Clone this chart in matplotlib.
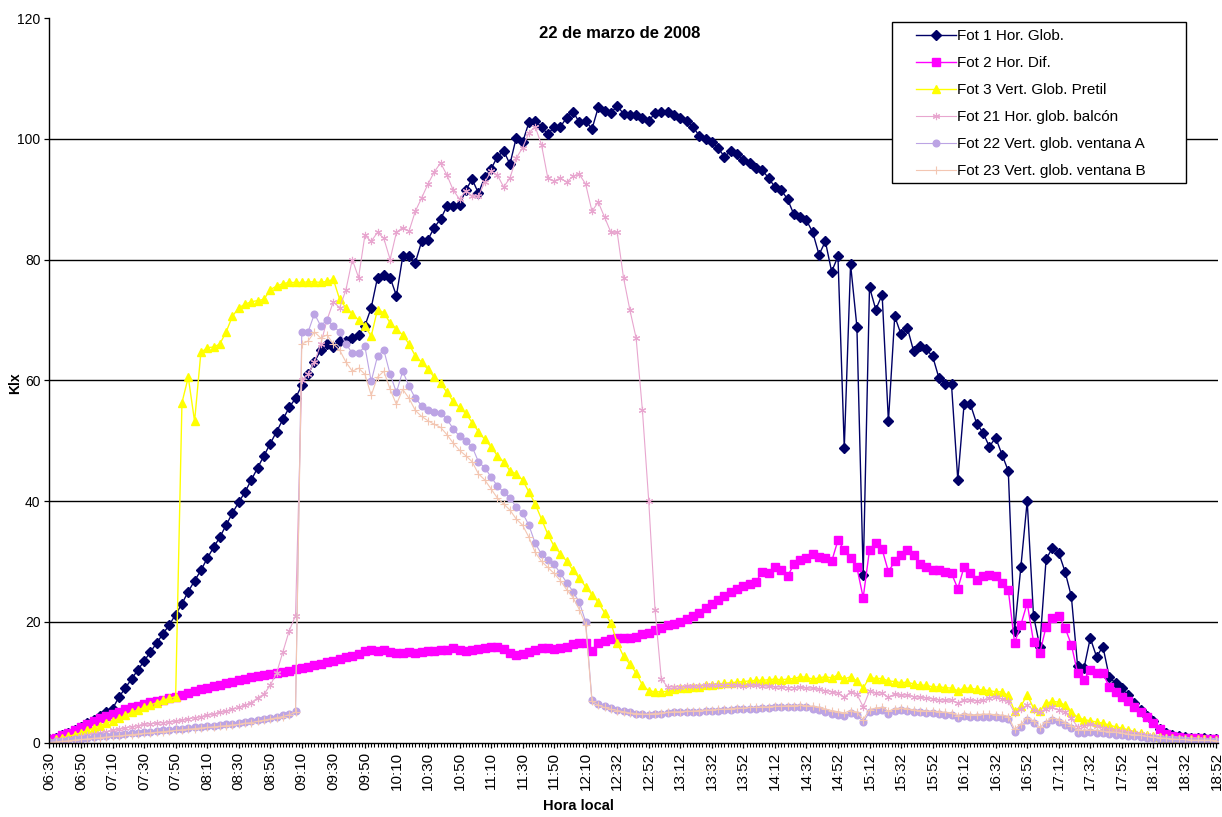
import matplotlib
matplotlib.use("Agg")
import matplotlib.pyplot as plt
from matplotlib.patches import Rectangle
import numpy as np

plt.rcParams['font.family'] = ['Liberation Sans', 'DejaVu Sans']

# Time-axis labels, one every 10 categories (2-min categories)
tick_labels = ["06:30", "06:50", "07:10", "07:30", "07:50", "08:10", "08:30", "08:50",
               "09:10", "09:30", "09:50", "10:10", "10:30", "10:50", "11:10", "11:30",
               "11:50", "12:10", "12:32", "12:52", "13:12", "13:32", "13:52", "14:12",
               "14:32", "14:52", "15:12", "15:32", "15:52", "16:12", "16:32", "16:52",
               "17:12", "17:32", "17:52", "18:12", "18:32", "18:52"]

series_names = ["Fot 1 Hor. Glob.", "Fot 2 Hor. Dif.", "Fot 3 Vert. Glob. Pretil",
                "Fot 21 Hor. glob. balcón", "Fot 22 Vert. glob. ventana A",
                "Fot 23 Vert. glob. ventana B"]

# Illuminance readings (klx), one reading every two categories
fot1 = [0.5, 0.8, 1.2, 1.6, 2.0, 2.6, 3.2, 3.8, 4.4, 5.0,
        5.6, 7.5, 9.0, 10.5, 12.0, 13.5, 15.0, 16.5, 18.0, 19.5,
        21.2, 23.0, 25.0, 26.8, 28.5, 30.5, 32.3, 34.0, 36.0, 38.0,
        39.8, 41.5, 43.5, 45.5, 47.5, 49.5, 51.5, 53.5, 55.5, 57.0,
        59.2, 61.0, 63.0, 65.0, 66.0, 65.5, 66.5, 66.5, 67.0, 67.5,
        69.0, 72.0, 77.0, 77.5, 77.0, 74.0, 80.5, 80.5, 79.5, 83.0,
        83.3, 85.3, 86.7, 88.8, 88.8, 89.0, 91.5, 93.3, 91.0, 93.6,
        95.0, 97.0, 98.0, 95.8, 100.2, 99.4, 102.7, 103.0, 101.9, 100.8,
        101.9, 102.0, 103.5, 104.5, 102.7, 103.0, 101.6, 105.2, 104.6, 104.2,
        105.5, 104.1, 104.0, 104.0, 103.5, 103.0, 104.2, 104.4, 104.4, 104.0,
        103.5, 103.0, 102.0, 100.5, 100.0, 99.5, 98.5, 97.0, 98.0, 97.5,
        96.5, 96.0, 95.2, 94.8, 93.5, 92.0, 91.5, 90.0, 87.5, 87.0,
        86.5, 84.5, 80.8, 83.0, 78.0, 80.5, 48.8, 79.2, 68.9, 27.8,
        75.4, 71.7, 74.2, 53.2, 70.6, 67.6, 68.7, 64.8, 65.6, 65.1,
        64.0, 60.4, 59.3, 59.3, 43.5, 56.1, 56.0, 52.8, 51.3, 49.0,
        50.5, 47.7, 45.0, 18.5, 29.1, 40.0, 21.0, 15.9, 30.4, 32.2,
        31.4, 28.3, 24.2, 12.6, 12.3, 17.3, 14.2, 15.9, 10.9, 9.8,
        9.0, 7.8, 6.6, 5.4, 4.4, 3.6, 2.2, 1.6, 1.2, 1.0,
        0.9, 0.8, 0.8, 0.7, 0.6, 0.5]

fot2 = [0.5, 0.8, 1.2, 1.6, 2.0, 2.5, 3.0, 3.6, 4.0, 4.4,
        4.8, 5.1, 5.5, 5.8, 6.1, 6.4, 6.7, 6.9, 7.1, 7.3,
        7.6, 7.9, 8.2, 8.5, 8.8, 9.0, 9.3, 9.6, 9.8, 10.1,
        10.4, 10.6, 10.8, 11.0, 11.2, 11.3, 11.5, 11.7, 11.9, 12.1,
        12.3, 12.5, 12.8, 13.0, 13.3, 13.5, 13.8, 14.1, 14.4, 14.7,
        15.1, 15.3, 15.2, 15.3, 15.0, 14.9, 14.8, 15.0, 14.9, 15.0,
        15.2, 15.1, 15.3, 15.4, 15.6, 15.3, 15.2, 15.3, 15.5, 15.7,
        15.9, 15.9, 15.5, 14.8, 14.5, 14.6, 15.0, 15.3, 15.6, 15.6,
        15.5, 15.6, 15.8, 16.3, 16.5, 16.5, 15.2, 16.5, 16.8, 17.1,
        17.3, 17.3, 17.3, 17.5, 17.9, 18.2, 18.6, 19.0, 19.4, 19.7,
        20.0, 20.5, 21.0, 21.5, 22.3, 23.0, 23.6, 24.2, 25.0, 25.5,
        26.0, 26.3, 26.6, 28.3, 28.0, 29.0, 28.5, 27.5, 29.5, 30.3,
        30.5, 31.2, 30.8, 30.5, 30.0, 33.5, 31.9, 30.5, 29.0, 24.0,
        31.9, 33.0, 32.0, 28.3, 30.0, 31.0, 31.9, 31.1, 29.5, 29.0,
        28.6, 28.5, 28.3, 28.0, 25.5, 29.1, 28.0, 26.9, 27.5, 27.8,
        27.5, 26.5, 25.3, 16.5, 19.5, 23.1, 16.7, 14.8, 19.2, 20.6,
        21.0, 19.0, 16.2, 11.5, 10.4, 12.0, 11.5, 11.5, 9.2, 8.4,
        7.6, 6.8, 5.9, 5.0, 4.2, 3.3, 2.3, 1.4, 1.0, 0.9,
        0.8, 0.7, 0.7, 0.6, 0.6, 0.5]

fot3 = [0.3, 0.5, 0.8, 1.0, 1.3, 1.6, 2.0, 2.4, 2.8, 3.2,
        3.6, 4.0, 4.5, 5.0, 5.4, 5.8, 6.2, 6.6, 7.0, 7.3,
        7.6, 56.3, 60.5, 53.2, 64.6, 65.4, 65.5, 66.0, 68.0, 70.6,
        72.0, 72.6, 73.0, 73.2, 73.4, 75.0, 75.6, 76.0, 76.2, 76.2,
        76.2, 76.3, 76.3, 76.2, 76.4, 76.7, 73.4, 72.0, 71.0, 70.0,
        69.0, 67.3, 71.7, 71.2, 69.5, 68.5, 67.5, 66.0, 64.0, 63.0,
        61.8, 60.5, 59.5, 58.0, 56.5, 55.5, 54.5, 53.0, 51.5, 50.2,
        49.0, 47.5, 46.5, 45.0, 44.5, 43.5, 41.5, 39.5, 37.0, 34.5,
        32.5, 31.3, 30.0, 28.5, 27.2, 25.8, 24.5, 23.2, 21.5, 19.8,
        16.5, 14.3, 13.0, 11.5, 9.5, 8.6, 8.4, 8.4, 8.5, 8.8,
        9.0, 9.1, 9.2, 9.2, 9.5, 9.6, 9.7, 9.8, 9.9, 10.0,
        10.1, 10.2, 10.3, 10.3, 10.4, 10.5, 10.4, 10.5, 10.6, 10.9,
        10.8, 10.5, 10.7, 10.9, 10.7, 11.2, 10.5, 10.9, 10.2, 9.0,
        10.8, 10.6, 10.6, 10.2, 10.1, 9.9, 10.0, 9.7, 9.5, 9.5,
        9.2, 9.2, 9.1, 9.0, 8.6, 9.0, 9.0, 8.8, 8.7, 8.6,
        8.4, 8.4, 7.8, 5.2, 6.0, 7.9, 5.7, 5.2, 6.5, 6.8,
        6.7, 6.2, 5.0, 4.2, 3.8, 3.6, 3.4, 3.2, 2.9, 2.6,
        2.4, 2.1, 1.8, 1.5, 1.3, 1.1, 0.9, 0.8, 0.7, 0.6,
        0.6, 0.5, 0.5, 0.5, 0.4, 0.4]

fot21 = [0.1, 0.2, 0.4, 0.6, 0.8, 1.0, 1.2, 1.4, 1.6, 1.8,
         2.0, 2.2, 2.4, 2.6, 2.8, 3.0, 3.1, 3.2, 3.3, 3.4,
         3.5, 3.7, 3.9, 4.1, 4.3, 4.5, 4.7, 5.0, 5.2, 5.5,
         5.8, 6.2, 6.6, 7.4, 8.0, 9.5, 11.5, 15.0, 18.5, 21.0,
         60.0, 61.0, 63.0, 66.0, 70.0, 73.0, 72.0, 75.0, 80.0, 77.0,
         84.0, 83.0, 84.5, 83.5, 80.0, 84.5, 85.3, 84.7, 88.0, 90.2,
         92.5, 94.5, 96.0, 94.0, 91.5, 90.0, 91.4, 90.5, 90.5, 92.8,
         94.6, 94.0, 92.0, 93.5, 96.8, 98.5, 101.0, 102.0, 99.0, 93.5,
         93.0, 93.5, 92.8, 93.8, 94.1, 92.5, 88.0, 89.5, 87.0, 84.5,
         84.5, 77.0, 71.7, 67.0, 55.0, 40.0, 22.0, 10.5, 9.2, 9.2,
         9.2, 9.3, 9.3, 9.4, 9.5, 9.5, 9.6, 9.6, 9.6, 9.5,
         9.4, 9.5, 9.5, 9.4, 9.3, 9.2, 9.2, 9.1, 9.1, 9.2,
         9.0, 9.0, 8.8, 8.6, 8.4, 8.2, 7.5, 8.4, 8.0, 5.9,
         8.5, 8.2, 8.2, 7.5, 8.0, 7.8, 7.9, 7.6, 7.5, 7.4,
         7.2, 7.1, 7.0, 7.0, 6.5, 7.1, 7.0, 6.9, 7.0, 7.3,
         7.6, 7.2, 6.8, 4.9, 5.5, 6.2, 5.4, 5.0, 5.6, 5.8,
         5.4, 5.0, 4.0, 2.6, 2.8, 3.1, 2.8, 2.4, 2.2, 2.0,
         1.9, 1.7, 1.6, 1.4, 1.2, 1.0, 0.9, 0.8, 0.7, 0.7,
         0.6, 0.5, 0.5, 0.4, 0.4, 0.4]

fot22 = [0.1, 0.2, 0.3, 0.4, 0.5, 0.6, 0.8, 0.9, 1.0, 1.1,
         1.2, 1.3, 1.4, 1.5, 1.6, 1.7, 1.8, 1.9, 2.0, 2.1,
         2.2, 2.3, 2.4, 2.5, 2.6, 2.7, 2.8, 2.9, 3.0, 3.1,
         3.2, 3.4, 3.5, 3.7, 3.9, 4.1, 4.3, 4.5, 4.7, 5.2,
         68.0, 68.0, 71.0, 69.0, 70.0, 69.0, 68.0, 66.0, 64.5, 64.5,
         65.6, 59.8, 64.0, 65.0, 61.0, 58.0, 61.5, 59.0, 57.0, 55.8,
         55.0, 54.7, 54.6, 53.5, 52.0, 50.7, 50.0, 49.0, 46.5, 45.5,
         44.0, 42.5, 41.5, 40.5, 39.0, 38.0, 36.0, 33.0, 31.2, 30.2,
         29.5, 28.0, 26.5, 25.0, 23.2, 20.0, 7.0, 6.3, 6.0, 5.7,
         5.4, 5.2, 5.0, 4.8, 4.7, 4.6, 4.7, 4.8, 4.9, 5.0,
         5.0, 5.1, 5.1, 5.1, 5.2, 5.3, 5.3, 5.4, 5.4, 5.5,
         5.5, 5.6, 5.6, 5.7, 5.7, 5.8, 5.8, 5.8, 5.9, 5.9,
         5.8, 5.6, 5.4, 5.0, 4.8, 4.6, 4.4, 4.9, 4.6, 3.4,
         5.0, 5.3, 5.4, 4.8, 5.2, 5.4, 5.3, 5.1, 5.0, 4.9,
         4.9, 4.8, 4.6, 4.5, 4.0, 4.4, 4.2, 4.2, 4.3, 4.3,
         4.2, 4.1, 3.9, 1.8, 2.6, 3.7, 3.2, 2.1, 3.0, 3.7,
         3.4, 2.9, 2.4, 1.6, 1.6, 1.7, 1.6, 1.5, 1.4, 1.3,
         1.2, 1.1, 1.0, 0.9, 0.8, 0.7, 0.6, 0.5, 0.5, 0.4,
         0.4, 0.3, 0.3, 0.3, 0.3, 0.3]

fot23 = [0.0, 0.1, 0.2, 0.3, 0.4, 0.5, 0.6, 0.7, 0.8, 0.9,
         1.0, 1.1, 1.2, 1.3, 1.4, 1.5, 1.6, 1.7, 1.8, 1.9,
         2.0, 2.1, 2.2, 2.3, 2.4, 2.5, 2.6, 2.7, 2.8, 2.9,
         3.0, 3.2, 3.3, 3.5, 3.7, 3.9, 4.1, 4.3, 4.6, 5.0,
         66.0, 66.5, 68.0, 67.0, 67.5, 66.0, 65.0, 63.0, 61.5, 62.0,
         61.0, 57.5, 60.5, 61.5, 58.5, 56.0, 58.5, 57.0, 55.0, 54.0,
         53.3, 52.7, 52.2, 51.0, 49.6, 48.4, 47.5, 46.5, 44.5, 43.5,
         42.0, 40.5, 39.5, 38.5, 37.0, 36.0, 34.0, 31.5, 30.0, 29.0,
         28.0, 26.8, 25.3, 24.0, 22.0, 19.5, 6.8, 6.2, 5.8, 5.5,
         5.3, 5.1, 4.9, 4.8, 4.7, 4.7, 4.8, 4.9, 5.0, 5.1,
         5.1, 5.2, 5.2, 5.3, 5.4, 5.4, 5.5, 5.5, 5.6, 5.7,
         5.7, 5.8, 5.8, 5.9, 5.9, 6.0, 6.0, 6.1, 6.1, 6.2,
         6.1, 6.0, 5.8, 5.5, 5.3, 5.1, 4.9, 5.3, 5.0, 3.8,
         5.4, 5.7, 5.8, 5.2, 5.6, 5.7, 5.6, 5.4, 5.3, 5.2,
         5.2, 5.1, 5.0, 4.9, 4.4, 4.8, 4.6, 4.6, 4.7, 4.7,
         4.6, 4.5, 4.3, 2.2, 3.0, 4.1, 3.6, 2.5, 3.4, 4.1,
         3.8, 3.3, 2.8, 2.0, 2.0, 2.1, 2.0, 1.9, 1.8, 1.7,
         1.6, 1.4, 1.3, 1.2, 1.0, 0.9, 0.8, 0.7, 0.6, 0.5,
         0.5, 0.4, 0.4, 0.4, 0.4, 0.3]

n_categories = 10 * (len(tick_labels) - 1)
x = np.arange(len(fot1)) * 2  # category position of each reading

W, H = 1222, 817
fig = plt.figure(figsize=(W / 100, H / 100), dpi=100)
ax = fig.add_axes([49.5 / W, 1 - 742.5 / H, (1218 - 49.5) / W, (742.5 - 18) / H])

styles = [
    dict(color="#000066", lw=1.0, marker="D", ms=5.2, mfc="#000066", mec="#000066"),
    dict(color="#ff00ff", lw=1.0, marker="s", ms=5.4, mfc="#ff00ff", mec="#ff00ff"),
    dict(color="#ffff00", lw=1.0, marker="^", ms=6.2, mfc="#ffff00", mec="#ffff00"),
    dict(color="#e8a6cf", lw=0.8, marker=(6, 2, 0), ms=5.2, mfc="#e8a6cf", mec="#e8a6cf", mew=0.8),
    dict(color="#bca4e4", lw=0.8, marker="o", ms=4.8, mfc="#bca4e4", mec="#bca4e4"),
    dict(color="#f3c6b2", lw=0.8, marker="+", ms=5.2, mfc="#f3c6b2", mec="#f3c6b2", mew=0.8),
]
all_series = [fot1, fot2, fot3, fot21, fot22, fot23]
handles = []
for name, vals, st in zip(series_names, all_series, styles):
    h, = ax.plot(x, vals, label=name, **st)
    handles.append(h)

ax.set_xlim(0, n_categories + 0.5)
ax.set_ylim(0, 120)

# horizontal gridlines
for gy in range(20, 120, 20):
    ax.axhline(gy, color="black", lw=1.0, zorder=0.5)

for side in ("top", "right"):
    ax.spines[side].set_visible(False)
for side in ("left", "bottom"):
    ax.spines[side].set_color("black")
    ax.spines[side].set_linewidth(1.0)

ax.set_yticks(range(0, 121, 20))
ax.set_yticklabels([str(v) for v in range(0, 121, 20)], fontsize=10)
ax.set_xticks(np.arange(0, n_categories + 1, 10))
ax.set_xticklabels(tick_labels, rotation=90, fontsize=11)
ax.set_xticks(np.arange(0, n_categories + 1, 1), minor=True)
ax.tick_params(axis="both", which="major", direction="out", length=3.5, width=0.9, color="black", pad=3)
ax.tick_params(axis="x", which="minor", direction="out", length=3.0, width=0.8, color="black")

fig.text(620 / W, 1 - 33 / H, "22 de marzo de 2008", ha="center", va="center",
         fontsize=12, fontweight="bold")
fig.text(578 / W, 1 - 806 / H, "Hora local", ha="center", va="center",
         fontsize=10.5, fontweight="bold")
fig.text(15 / W, 1 - 383 / H, "Klx", ha="center", va="center", rotation=90,
         fontsize=10, fontweight="bold")

# legend box (white frame) with the entries drawn on top of it
ax.add_patch(Rectangle((892 / W, 1 - 183 / H), (1186 - 892) / W, (183 - 22) / H,
                       transform=fig.transFigure, facecolor="white",
                       edgecolor="black", lw=1.0, zorder=4, clip_on=False))
leg = ax.legend(handles=handles, loc="upper left",
                bbox_to_anchor=(916 / W, 1 - 29 / H), bbox_transform=fig.transFigure,
                fontsize=11, numpoints=1, handlelength=2.6, labelspacing=0.85,
                borderpad=0, handletextpad=0.1, frameon=False, borderaxespad=0)
leg.set_zorder(5)

fig.savefig("out.png", dpi=100)
